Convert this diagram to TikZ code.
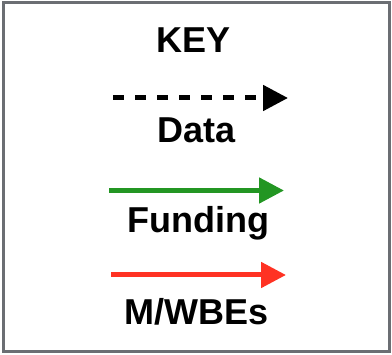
\documentclass[tikz,border=0pt]{standalone}
\usepackage{fontspec}
\setmainfont{Liberation Sans}
\usetikzlibrary{arrows.meta}
\definecolor{framegray}{RGB}{107,110,115}
\definecolor{fundgreen}{RGB}{35,150,35}
\definecolor{mwbered}{RGB}{255,50,35}
\begin{document}
\begin{tikzpicture}[x=1pt,y=-1pt,
  label text/.style={anchor=base,inner sep=0pt,font=\bfseries\fontsize{36}{40}\selectfont},
  keyarrow/.style={line width=5pt,-{Triangle[length=25pt,width=25pt]}}]
\useasboundingbox (0,0) rectangle (392,355);
% frame
\draw[framegray,line width=3pt] (3,3) rectangle (389,352);
% title and labels
\node[label text] (key) at (194,53) {KEY};
\node[label text] (data) at (196.5,143) {Data};
\node[label text] (funding) at (198,233) {Funding};
\node[label text] (mwbe) at (196.5,325) {M/WBEs};
% sample arrows
\coordinate (d0) at (113,98);   \coordinate (d1) at (288,98);
\coordinate (f0) at (109,190.5); \coordinate (f1) at (284,190.5);
\coordinate (m0) at (111,275);  \coordinate (m1) at (286,275);
\draw[keyarrow,black,dash pattern=on 11pt off 11pt] (d0) -- (d1);
\draw[keyarrow,fundgreen] (f0) -- (f1);
\draw[keyarrow,mwbered] (m0) -- (m1);
\end{tikzpicture}
\end{document}
